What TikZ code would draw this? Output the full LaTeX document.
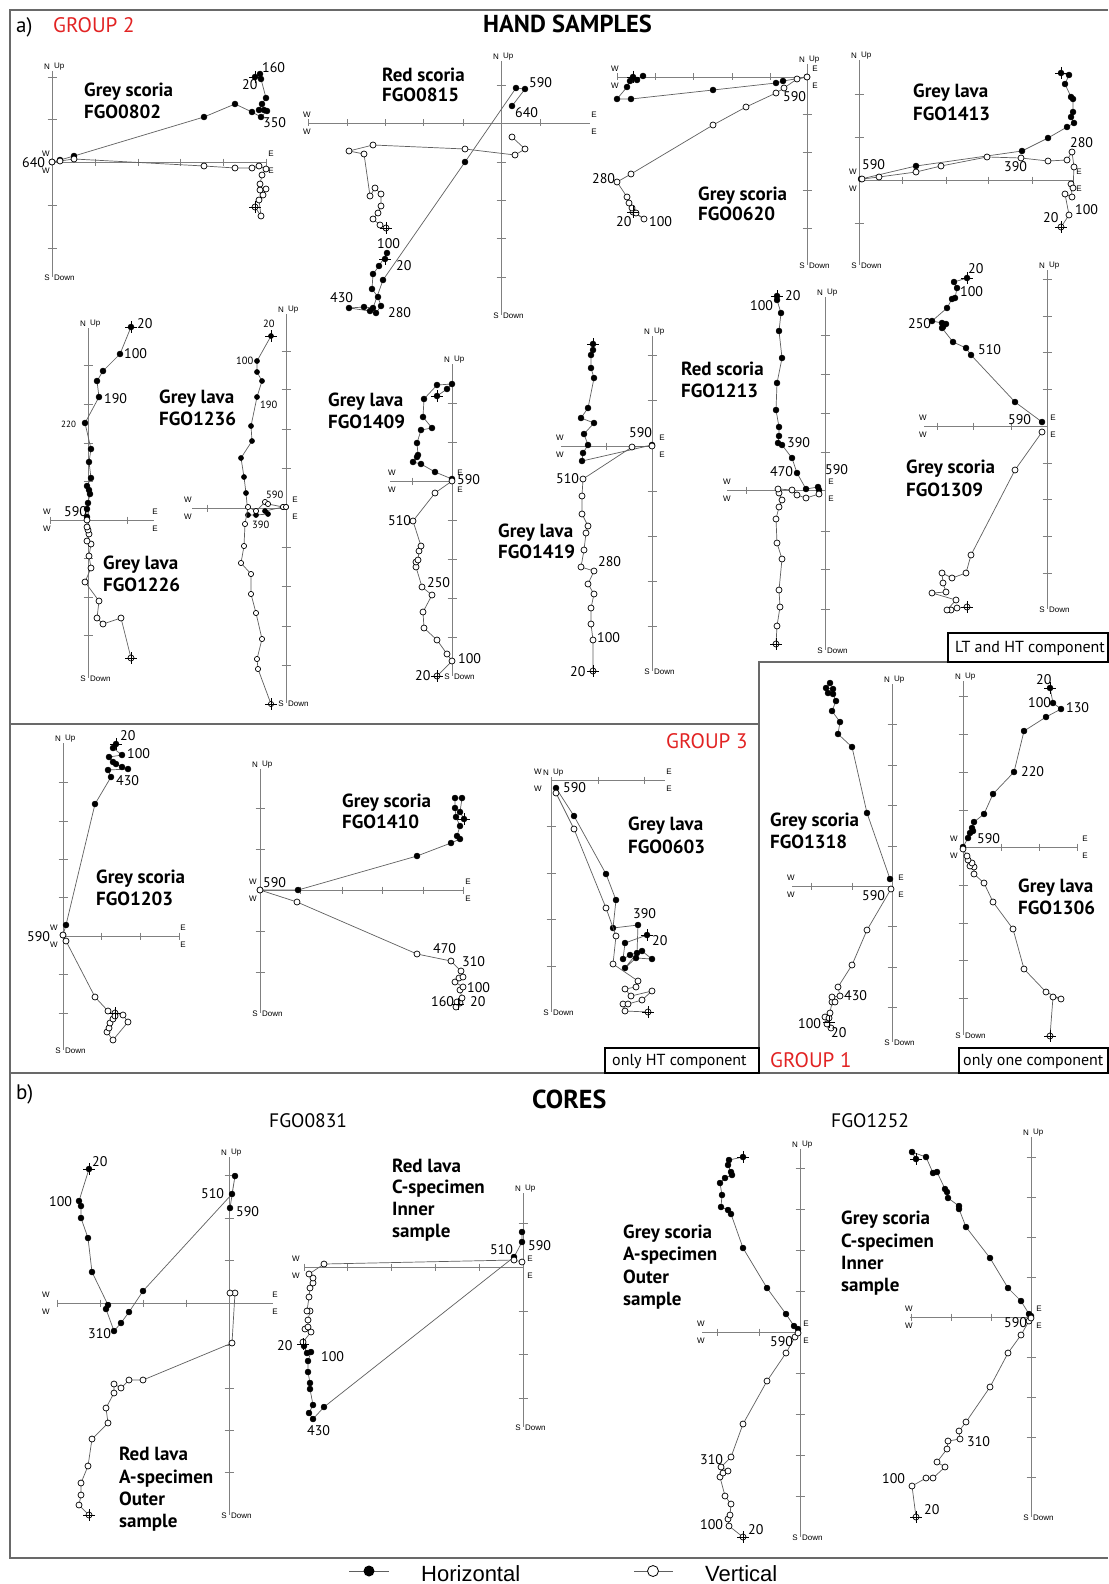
\documentclass[tikz,border=0pt]{standalone}
\usepackage{fontspec}
\newfontfamily\pts{PT Sans}
\newfontfamily\lib{Liberation Sans}
\definecolor{grp}{RGB}{226,35,35}
\definecolor{plc}{RGB}{95,95,95}
\definecolor{axc}{RGB}{128,128,128}
\definecolor{frc}{RGB}{105,105,105}
\tikzset{
  pl/.style={draw=plc,line width=0.7pt},
  ax/.style={draw=axc,line width=0.8pt},
  frm/.style={draw=frc,line width=1.3pt},
  boxx/.style={draw=black,line width=1.3pt},
  crs/.style={draw=black,line width=0.8pt},
  num/.style={font=\fontsize{14}{14}\selectfont\pts,anchor=west,inner sep=0pt},
  numsm/.style={font=\fontsize{10.5}{11}\selectfont\pts,anchor=west,inner sep=0pt},
  ttl/.style={font=\fontsize{19}{20}\selectfont\pts\bfseries,anchor=base west,inner sep=0pt},
  axl/.style={font=\fontsize{8}{8}\selectfont\lib,inner sep=0pt},
  hdr/.style={font=\fontsize{21}{21}\selectfont\pts,anchor=base west,inner sep=0pt},
  bxt/.style={font=\fontsize{16}{16}\selectfont\pts,anchor=west,inner sep=0pt},
}
\newcommand{\ZAX}[9]{%
  \draw[ax] (#1,#3)--(#1,#4) (#5,#2)--(#6,#2);
  \node[axl,anchor=east] (#9n) at (#1-2,#3-4) {N};
  \node[axl,anchor=west] (#9u) at (#1+2,#3-4) {Up};
  \node[axl,anchor=east] (#9s) at (#1-2,#4+1) {S};
  \node[axl,anchor=west] (#9d) at (#1+2,#4+1) {Down};
  \node[axl] (#9w1) at (#7,#2-8) {W};
  \node[axl] (#9w2) at (#7,#2+9) {W};
  \node[axl] (#9e1) at (#8,#2-8) {E};
  \node[axl] (#9e2) at (#8,#2+9) {E};
}
\newcommand{\VTK}[2]{\foreach \tk in {#2}{\draw[ax] (#1-4.5,\tk)--(#1+4.5,\tk);}}
\newcommand{\HTK}[2]{\foreach \tk in {#2}{\draw[ax] (\tk,#1-3.5)--(\tk,#1+3.5);}}
\newcommand{\HZ}[2][3pt]{\draw[pl] plot[mark=*,mark size=#1,mark options={solid,fill=black,draw=black,line width=0.4pt}] coordinates {#2};}
\newcommand{\VC}[2][3pt]{\draw[pl] plot[mark=*,mark size=#1,mark options={solid,fill=white,draw=black,line width=0.7pt}] coordinates {#2};}
\newcommand{\ST}[2]{\draw[crs] (#1,#2)+(-6,0)--+(6,0) (#1,#2)+(0,-6)--+(0,6);}
\newcommand{\NL}[4]{\node[num] (#1) at (#2,#3) {#4};}
\newcommand{\NS}[4]{\node[numsm] (#1) at (#2,#3) {#4};}
\newcommand{\TL}[4]{\node[ttl] (#1) at (#2,#3) {#4};}
\begin{document}
\begin{tikzpicture}[x=1pt,y=-1pt]
\useasboundingbox (0,0) rectangle (1108,1584);
\fill[white] (0,0) rectangle (1108,1584);
% frames
\draw[frm] (1108,10)--(10,10)--(10,1558)--(1108,1558);
\draw[frm] (10,1073)--(1108,1073);
\draw[frm] (10,724)--(759,724);
\draw[frm] (759,1073)--(759,662)--(1108,662);
\draw[boxx] (948,633) rectangle (1108,662);
\draw[boxx] (605,1048) rectangle (759,1073);
\draw[boxx] (959,1048) rectangle (1108,1073);
\node[bxt] (bx1) at (955,648) {LT and HT component};
\node[bxt] (bx2) at (612,1062) {only HT component};
\node[bxt] (bx3) at (963,1062) {only one component};
% headers
\node[hdr] (ha) at (16,33) {a)};
\node[hdr,text=grp] (g2) at (53,33) {GROUP 2};
\node[hdr,font=\fontsize{24.5}{25}\selectfont\pts\bfseries] (hs) at (483,33) {HAND SAMPLES};
\node[hdr,text=grp] (g3) at (666,748) {GROUP 3};
\node[hdr,text=grp] (g1) at (770,1067) {GROUP 1};
\node[hdr] (hb) at (16,1099) {b)};
\node[hdr,font=\fontsize{26}{26}\selectfont\pts\bfseries] (hc) at (532,1108) {CORES};
\node[hdr,font=\fontsize{19.5}{20}\selectfont\pts] (c1) at (269,1127) {FGO0831};
\node[hdr,font=\fontsize{19.5}{20}\selectfont\pts] (c2) at (831,1127) {FGO1252};

% ---- Plot 1 FGO0802
\ZAX{52}{162}{71}{277}{52}{267}{46}{271}{a}
\VTK{52}{77,119,205,248}
\HTK{162}{95,138,180,223,266}
\HZ{(255,77) (260,74) (261,79) (266,98) (262,104) (259,110) (264,110) (267,111) (261,117) (252,112) (235,104) (204,117) (74,156) (60,160) (52,162)}
\VC{(255,207) (261,216) (259,200) (263,195) (266,189) (260,190) (260,184) (262,175) (266,169) (259,166) (252,168) (235,168) (204,166) (74,159) (60,161) (52,162)}
\ST{255}{77}\ST{255}{207}
\NL{a1}{262}{68}{160}\NL{a2}{242}{85}{20}\NL{a3}{263}{123}{350}\NL{a4}{22}{163}{640}
\TL{at1}{84}{97}{Grey scoria}\TL{at2}{84}{118}{FGO0802}

% ---- Plot 2 FGO0815
\ZAX{501}{123}{61}{315}{308}{590}{307}{594}{b}
\VTK{501}{85,162,200,238,277}
\HTK{123}{308,347,385,423,463,540}
\HZ{(385,259) (387,253) (379,266) (373,274) (372,289) (378,297) (381,306) (376,313) (370,311) (349,308) (364,307) (373,308) (383,280) (465,162) (516,88) (525,89) (512,106)}
\VC{(386,228) (380,225) (373,219) (378,213) (381,206) (381,194) (375,188) (370,196) (364,154) (349,151) (373,145) (465,149) (515,155) (525,149) (512,137)}
\ST{385}{259}\ST{386}{228}
\NL{b1}{529}{83}{590}\NL{b2}{515}{113}{640}\NL{b3}{377}{244}{100}\NL{b4}{396}{266}{20}\NL{b5}{330}{298}{430}\NL{b6}{388}{313}{280}
\TL{bt1}{382}{82}{Red scoria}\TL{bt2}{382}{102}{FGO0815}

% ---- Plot 3 FGO0620
\ZAX{807}{77}{64}{265}{617}{807}{615}{815}{c}
\VTK{807}{114,152,190,228}
\HTK{77}{617,655,693,732,770}
\HZ{(633,77) (637,80) (643,76) (630,81) (627,87) (617,99) (631,99) (713,90) (776,83) (783,81) (807,77)}
\VC{(633,212) (644,219) (636,213) (632,208) (629,203) (627,197) (617,182) (631,174) (713,125) (746,107) (776,93) (784,88) (797,79) (807,77)}
\ST{633}{77}\ST{633}{212}
\NL{c1}{783}{97}{590}\NL{c2}{592}{179}{280}\NL{c3}{616}{222}{20}\NL{c4}{649}{222}{100}
\TL{ct1}{698}{200}{Grey scoria}\TL{ct2}{698}{220}{FGO0620}

% ---- Plot 4 FGO1413
\ZAX{859}{180}{60}{265}{859}{1073}{853}{1079}{d}
\VTK{859}{94,137,223}
\HTK{180}{902,946,988,1032,1073}
\HZ{(1061,73) (1069,75) (1065,84) (1071,97) (1073,99) (1073,112) (1071,117) (1074,123) (1067,127) (1048,138) (1022,151) (916,166) (861,179)}
\VC{(1061,227) (1069,215) (1065,194) (1072,197) (1071,184) (1073,188) (1074,167) (1072,152) (1067,160) (1048,161) (1021,158) (987,157) (941,166) (916,172) (879,177) (862,179)}
\ST{1061}{73}\ST{1061}{227}
\NL{d1}{1070}{143}{280}\NL{d2}{1004}{167}{390}\NL{d3}{862}{165}{590}\NL{d4}{1075}{210}{100}\NL{d5}{1043}{218}{20}
\TL{dt1}{913}{98}{Grey lava}\TL{dt2}{913}{121}{FGO1413}

% ---- Plot 5 FGO1226
\ZAX{88}{520}{328}{678}{50}{154}{47}{155}{e}
\VTK{88}{365,404,443,481,558,597,635}
\HTK{520}{50,127}
\HZ{(131,327) (120,354) (103,371) (97,381) (99,397) (85,423) (91,449) (89,462) (91,478) (87,486) (89,490) (90,494) (88,503) (87,509) (87,517)}
\VC{(131,658) (121,618) (103,624) (97,618) (99,601) (85,582) (91,568) (89,556) (91,544) (87,541) (89,534) (88,530) (87,527) (87,520)}
\ST{131}{327}\ST{131}{658}
\NL{e1}{137}{324}{20}\NL{e2}{124}{354}{100}\NL{e3}{104}{399}{190}\NL{e5}{64}{512}{590}
\node[numsm,font=\fontsize{9}{9}\selectfont\pts] (e4) at (61,424) {220};
\TL{et1}{103}{569}{Grey lava}\TL{et2}{103}{591}{FGO1226}

% ---- Plot 6 FGO1236
\ZAX{286}{508}{314}{703}{192}{287}{188}{295}{f}
\VTK{286}{351,389,429,468,547,586,626,665}
\HTK{508}{207}
\HZ[2.6pt]{(271,336) (257,361) (257,372) (262,381) (257,397) (251,426) (252,441) (241,458) (244,477) (246,493) (248,515) (256,515) (268,514) (265,511) (283,507) (286,507)}
\VC[2.6pt]{(271,704) (258,669) (257,659) (262,639) (256,613) (251,594) (251,574) (241,563) (244,546) (245,524) (248,507) (256,511) (265,502) (268,504) (283,507) (286,507)}
\ST{271}{336}\ST{271}{704}
\NS{f1}{263}{324}{20}\NS{f2}{236}{361}{100}\NS{f3}{260}{405}{190}\NS{f4}{266}{495}{590}\NS{f5}{252}{525}{390}
\TL{ft1}{159}{403}{Grey lava}\TL{ft2}{159}{425}{FGO1236}

% ---- Plot 7 FGO1409
\ZAX{452}{481}{364}{676}{390}{452}{392}{460}{g}
\VTK{452}{403,442,520,559,598,637}
\HTK{481}{412}
\HZ{(437,396) (447,389) (452,384) (437,385) (424,399) (423,417) (432,428) (421,430) (417,443) (418,455) (417,457) (413,462) (421,464) (435,472) (452,479)}
\VC{(437,676) (452,661) (447,654) (437,640) (424,628) (423,612) (432,595) (422,587) (416,567) (416,562) (418,560) (419,551) (421,546) (413,521) (435,493) (452,481)}
\ST{437}{396}\ST{437}{676}
\NL{g1}{457}{480}{590}\NL{g2}{388}{521}{510}\NL{g3}{427}{583}{250}\NL{g4}{458}{659}{100}\NL{g5}{415}{676}{20}
\TL{gt1}{328}{406}{Grey lava}\TL{gt2}{328}{428}{FGO1409}

% ---- Plot 8 FGO1419
\ZAX{652}{446}{336}{671}{561}{652}{560}{662}{h}
\VTK{652}{355,400,491,536,581,626}
\HTK{446}{606}
\HZ{(593,344) (593,350) (591,355) (591,368) (594,378) (588,408) (581,418) (594,423) (584,434) (588,445) (583,453) (582,461) (652,445)}
\VC{(593,671) (593,640) (591,624) (591,608) (594,594) (588,584) (594,571) (581,567) (584,550) (586,533) (588,526) (582,514) (582,496) (583,479) (632,447) (652,446)}
\ST{593}{344}\ST{593}{671}
\NL{h1}{629}{433}{590}\NL{h2}{556}{479}{510}\NL{h3}{598}{562}{280}\NL{h4}{597}{638}{100}\NL{h5}{570}{672}{20}
\TL{ht1}{498}{537}{Grey lava}\TL{ht2}{498}{558}{FGO1419}

% ---- Plot 9 FGO1213
\ZAX{825}{490}{297}{650}{727}{825}{727}{831}{i}
\VTK{825}{335,374,413,452,531,569,609}
\HTK{490}{746}
\HZ{(777,296) (777,300) (781,313) (779,331) (782,358) (777,383) (776,410) (779,427) (779,436) (778,443) (782,445) (792,458) (797,473) (806,489) (818,487) (819,490)}
\VC{(776,644) (777,626) (780,607) (779,590) (782,559) (777,543) (776,519) (779,507) (782,500) (779,493) (778,489) (792,490) (797,495) (806,498) (819,494)}
\ST{777}{296}\ST{776}{644}
\NL{i1}{785}{296}{20}\NL{i2}{750}{306}{100}\NL{i3}{787}{443}{390}\NL{i4}{770}{472}{470}\NL{i5}{825}{470}{590}
\TL{it1}{681}{375}{Red scoria}\TL{it2}{681}{397}{FGO1213}

% ---- Plot 10 FGO1309
\ZAX{1047}{426}{270}{609}{924}{1047}{923}{1053}{j}
\VTK{1047}{279,316,352,389,463,499,536,573}
\HTK{426}{937,973,1011}
\HZ{(967,278) (954,282) (957,288) (955,298) (952,299) (947,308) (932,321) (942,323) (946,324) (943,327) (942,328) (953,342) (966,348) (971,355) (1015,402) (1042,422)}
\VC{(967,607) (957,608) (951,610) (947,610) (956,600) (932,593) (946,592) (943,583) (942,573) (952,578) (966,573) (971,555) (1015,470) (1042,432)}
\ST{967}{278}\ST{967}{607}
\NL{j1}{968}{269}{20}\NL{j2}{960}{292}{100}\NL{j3}{908}{324}{250}\NL{j4}{978}{350}{510}\NL{j5}{1008}{420}{590}
\TL{jt1}{906}{473}{Grey scoria}\TL{jt2}{906}{496}{FGO1309}

% ---- Plot 11 FGO1203
\ZAX{63}{936}{743}{1050}{63}{180}{54}{183}{k}
\VTK{63}{782,821,859,897,974,1013}
\HTK{936}{101,140,179}
\HZ{(116,744) (113,748) (122,755) (109,757) (113,762) (116,764) (122,767) (128,769) (108,770) (111,777) (95,804) (66,925) (63,935)}
\VC{(115,1013) (123,1015) (128,1022) (113,1040) (107,1032) (109,1028) (110,1023) (113,1019) (115,1016) (108,1011) (95,997) (66,941) (63,935)}
\ST{116}{744}\ST{115}{1013}
\NL{k1}{120}{736}{20}\NL{k2}{127}{754}{100}\NL{k3}{116}{781}{430}\NL{k4}{27}{937}{590}
\TL{kt1}{96}{883}{Grey scoria}\TL{kt2}{96}{905}{FGO1203}

% ---- Plot 12 FGO1410
\ZAX{260}{890}{769}{1013}{260}{464}{253}{468}{l}
\VTK{260}{808,849,931,972}
\HTK{890}{300,342,382,423,463}
\HZ{(464,819) (460,812) (462,798) (455,798) (455,808) (456,817) (460,826) (457,836) (460,839) (451,843) (417,856) (298,890) (260,890)}
\VC{(460,1003) (456,1007) (457,1002) (462,998) (460,990) (463,987) (455,982) (459,978) (463,977) (461,971) (451,961) (417,954) (297,902) (260,890)}
\ST{464}{819}\ST{458}{1004}
\NL{l1}{263}{883}{590}\NL{l2}{433}{949}{470}\NL{l3}{462}{962}{310}\NL{l4}{467}{988}{100}\NL{l5}{431}{1002}{160}\NL{l6}{470}{1002}{20}
\TL{lt1}{342}{807}{Grey scoria}\TL{lt2}{342}{828}{FGO1410}

% ---- Plot 13 FGO0603
\ZAX{551}{780}{777}{1012}{551}{665}{538}{669}{m}
\VTK{551}{826,873,919,966}
\HTK{780}{598,644}
\HZ{(647,935) (625,943) (623,959) (630,955) (642,951) (652,959) (636,958) (625,968) (637,953) (638,925) (613,928) (616,900) (606,874) (574,816) (556,788)}
\VC{(648,1012) (625,1011) (623,1004) (628,1004) (642,1000) (652,991) (631,996) (625,989) (636,987) (638,981) (613,964) (616,936) (606,908) (574,829) (556,793)}
\ST{647}{935}\ST{648}{1012}
\NL{m1}{563}{788}{590}\NL{m2}{633}{914}{390}\NL{m3}{652}{941}{20}
\TL{mt1}{628}{830}{Grey lava}\TL{mt2}{628}{853}{FGO0603}

% ---- Plot 14 FGO1318
\ZAX{892}{886}{684}{1042}{792}{892}{791}{901}{n}
\VTK{892}{724,765,805,846,926,967,1007}
\HTK{886}{811,852}
\HZ{(830,683) (826,688) (833,689) (828,693) (833,694) (836,701) (832,711) (840,722) (838,734) (852,747) (867,813) (890,879)}
\VC{(831,1028) (827,1024) (825,1017) (829,1018) (830,1013) (832,1002) (835,1002) (832,997) (840,996) (838,987) (852,965) (867,930) (891,889)}
\ST{829}{1022}
\NL{n1}{862}{896}{590}\NL{n2}{844}{996}{430}\NL{n3}{798}{1024}{100}\NL{n4}{831}{1033}{20}
\TL{nt1}{770}{826}{Grey scoria}\TL{nt2}{770}{848}{FGO1318}

% ---- Plot 15 FGO1306
\ZAX{963}{847}{681}{1035}{963}{1077}{954}{1085}{o}
\VTK{963}{696,734,772,810,885,923,960,998}
\HTK{847}{1001,1039,1077}
\HZ{(1050,688) (1053,703) (1061,709) (1046,717) (1024,731) (1014,772) (993,794) (984,814) (974,822) (972,828) (973,831) (970,833) (968,838) (963,847)}
\VC{(1050,1036) (1053,997) (1061,999) (1046,992) (1024,969) (1013,929) (993,902) (984,883) (974,874) (974,867) (970,866) (972,863) (968,860) (967,856) (963,849)}
\ST{1050}{688}\ST{1050}{1036}
\NL{o1}{1036}{680}{20}\NL{o2}{1028}{703}{100}\NL{o3}{1066}{708}{130}\NL{o4}{1021}{772}{220}\NL{o5}{977}{839}{590}
\TL{ot1}{1018}{892}{Grey lava}\TL{ot2}{1018}{914}{FGO1306}

% ---- Plot 16 FGO0831 A
\ZAX{229}{1303}{1157}{1515}{57}{273}{46}{275}{p}
\VTK{229}{1175,1218,1260,1345,1388,1430,1472}
\HTK{1303}{57,100,143,186}
\HZ{(89,1169) (79,1201) (81,1206) (81,1218) (88,1238) (92,1272) (108,1305) (106,1309) (114,1331) (121,1323) (129,1312) (143,1291) (232,1194) (235,1176) (230,1208)}
\VC{(89,1515) (79,1505) (81,1495) (81,1483) (88,1466) (92,1439) (108,1423) (106,1408) (114,1393) (114,1384) (121,1388) (129,1380) (143,1380) (232,1343) (235,1293) (230,1293)}
\ST{89}{1169}\ST{89}{1515}
\NL{p1}{92}{1162}{20}\NL{p2}{49}{1202}{100}\NL{p3}{201}{1194}{510}\NL{p4}{236}{1212}{590}\NL{p5}{88}{1334}{310}
\TL{pt1}{119}{1460}{Red lava}\TL{pt2}{119}{1483}{A-specimen}\TL{pt3}{119}{1505}{Outer}\TL{pt4}{119}{1527}{sample}

% ---- Plot 17 FGO0831 C
\ZAX{523}{1267}{1193}{1427}{304}{523}{296}{530}{q}
\VTK{523}{1223,1311,1354,1398}
\HTK{1267}{304,347,391,435,479}
\HZ{(304,1346) (307,1353) (311,1352) (308,1361) (308,1372) (310,1383) (310,1389) (313,1405) (309,1413) (313,1419) (324,1407) (514,1257) (522,1242) (522,1232)}
\VC{(303,1342) (311,1332) (305,1329) (308,1327) (308,1320) (310,1311) (307,1311) (309,1297) (310,1288) (313,1283) (313,1278) (309,1274) (324,1264) (514,1260) (522,1262)}
\ST{303}{1344}
\NL{q1}{277}{1346}{20}\NL{q2}{321}{1357}{100}\NL{q3}{307}{1431}{430}\NL{q4}{490}{1250}{510}\NL{q5}{528}{1246}{590}
\TL{qt1}{392}{1172}{Red lava}\TL{qt2}{392}{1193}{C-specimen}\TL{qt3}{392}{1215}{Inner}\TL{qt4}{392}{1237}{sample}

% ---- Plot 18 FGO1252 A
\ZAX{800}{1332}{1149}{1537}{702}{800}{701}{806}{r}
\VTK{800}{1168,1209,1250,1291,1373,1414,1455,1496}
\HTK{1332}{717,759}
\HZ{(743,1157) (729,1160) (728,1165) (731,1172) (732,1175) (725,1178) (720,1183) (722,1195) (721,1207) (728,1210) (731,1214) (743,1248) (767,1288) (786,1314) (794,1326) (798,1329)}
\VC{(743,1537) (729,1526) (728,1519) (730,1515) (731,1504) (725,1496) (720,1477) (723,1473) (728,1471) (721,1467) (731,1457) (743,1424) (767,1381) (786,1353) (795,1337) (798,1333)}
\ST{743}{1157}\ST{743}{1537}
\NL{r1}{770}{1342}{590}\NL{r2}{700}{1460}{310}\NL{r3}{700}{1525}{100}\NL{r4}{748}{1530}{20}
\TL{rt1}{623}{1238}{Grey scoria}\TL{rt2}{623}{1260}{A-specimen}\TL{rt3}{623}{1283}{Outer}\TL{rt4}{623}{1305}{sample}

% ---- Plot 19 FGO1252 C
\ZAX{1031}{1317}{1137}{1517}{910}{1031}{909}{1039}{s}
\VTK{1031}{1157,1197,1237,1277,1357,1397,1437,1477}
\HTK{1317}{911,951,991}
\HZ{(916,1159) (912,1152) (926,1157) (933,1173) (937,1172) (945,1189) (947,1192) (948,1198) (959,1206) (959,1209) (966,1227) (990,1258) (1008,1288) (1021,1301) (1029,1314) (1031,1316)}
\VC{(916,1517) (912,1486) (926,1478) (933,1478) (945,1467) (937,1462) (947,1449) (948,1441) (960,1439) (959,1431) (966,1422) (990,1387) (1008,1353) (1021,1335) (1029,1321) (1031,1318)}
\ST{916}{1159}\ST{916}{1517}
\NL{s1}{1004}{1323}{590}\NL{s2}{967}{1442}{310}\NL{s3}{882}{1479}{100}\NL{s4}{924}{1510}{20}
\TL{st1}{841}{1224}{Grey scoria}\TL{st2}{841}{1247}{C-specimen}\TL{st3}{841}{1269}{Inner}\TL{st4}{841}{1291}{sample}

% ---- legend
\coordinate (lh1) at (349,1571); \coordinate (lh2) at (389,1571);
\coordinate (lv1) at (634,1571); \coordinate (lv2) at (673,1571);
\draw[pl,line width=1pt] (lh1)--(lh2);
\fill[black] (369,1571) circle (5.5);
\draw[pl,line width=1pt] (lv1)--(lv2);
\draw[black,fill=white,line width=0.8pt] (653,1571) circle (5.5);
\node[font=\fontsize{22}{22}\selectfont\lib,anchor=base west,inner sep=0pt] (lgh) at (421,1581) {Horizontal};
\node[font=\fontsize{22}{22}\selectfont\lib,anchor=base west,inner sep=0pt] (lgv) at (705,1581) {Vertical};
\end{tikzpicture}
\end{document}
